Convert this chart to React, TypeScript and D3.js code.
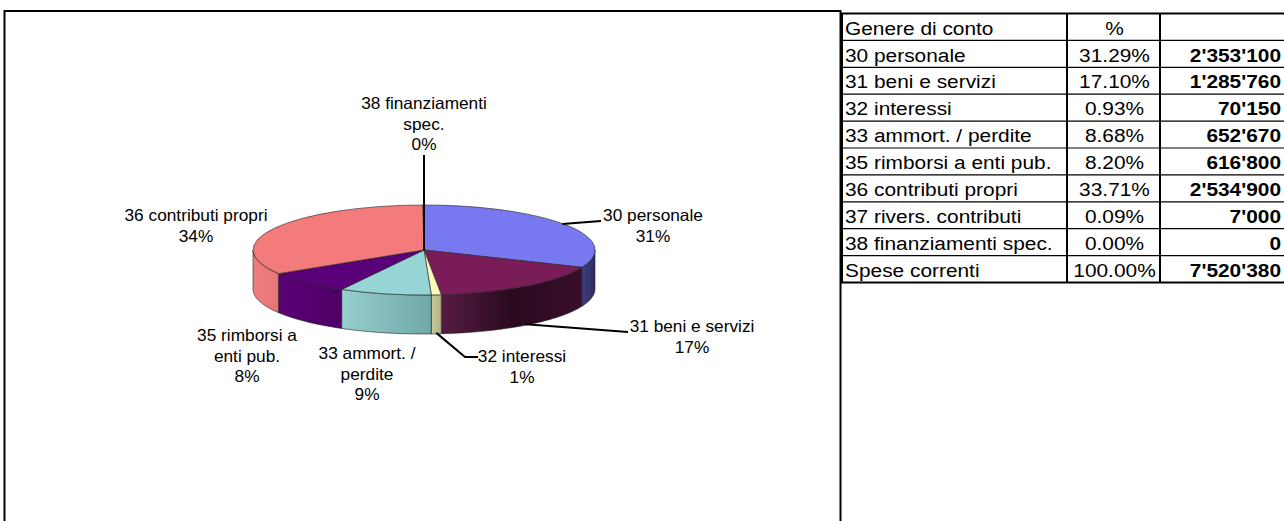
import React from "react";
import * as d3 from "d3";

// account groups, amounts in CHF
const accounts = [
  "30 personale",
  "31 beni e servizi",
  "32 interessi",
  "33 ammort. / perdite",
  "35 rimborsi a enti pub.",
  "36 contributi propri",
  "37 rivers. contributi",
  "38 finanziamenti spec.",
];
const amounts = [2353100, 1285760, 70150, 652670, 616800, 2534900, 7000, 0];
const totalLabel = "Spese correnti";
const headers = ["Genere di conto", "%", ""];

// how the pie labels wrap (37 has no label on the chart)
const pieLabelLines = [
  ["30 personale"],
  ["31 beni e servizi"],
  ["32 interessi"],
  ["33 ammort. /", "perdite"],
  ["35 rimborsi a", "enti pub."],
  ["36 contributi propri"],
  [],
  ["38 finanziamenti", "spec."],
];

const topColors = ["#7878f0", "#7a1c57", "#fbf8bc", "#96d5d5", "#5a0078", "#f47b7b", "#0a55a8", "#b4b4e6"];
const sideColors = [
  ["#3e3e84", "#2c2c60"],
  ["#561b42", "#2a0a1f", "#3a0e2b"],
  ["#c9c99a", "#b3b386"],
  ["#98d0d0", "#6fa6a6"],
  ["#5a0076", "#4e0066"],
  ["#f07e7e", "#e67575"],
  ["#0a4a90", "#083c78"],
  ["#a0a0d0", "#9090c0"],
];

// layout
const W = 1284;
const H = 521;
const FONT = "'Liberation Sans', Arial, Helvetica, sans-serif";
const cx = 424;
const cy = 250;
const rx = 171;
const ry = 45;
const depth = 39;
const labelSize = 16.3;
const labelStretch = 1.06;
const lineH = 20.5;

// label block centres relative to the pie centre
const labelOffsets: ([number, number] | null)[] = [
  [229, -34],
  [268, 77],
  [98, 107],
  [-57, 104],
  [-177, 86],
  [-228, -34],
  null,
  [0, -146],
];
// leader lines: label-side points relative to the pie centre, where the line attaches
const leaders: { i: number; pts: [number, number][]; at: "top" | "bottom" | "center" }[] = [
  { i: 0, pts: [[177, -29]], at: "top" },
  { i: 1, pts: [[204, 82]], at: "bottom" },
  { i: 2, pts: [[41, 107], [54, 107]], at: "bottom" },
  { i: 7, pts: [[0, -95]], at: "center" },
];

const total = d3.sum(amounts);
const fmtPct = d3.format(".2%");
const fmtAmt = (v: number) => d3.format(",")(v).replace(/,/g, "'");

const ex = (t: number) => cx + rx * Math.sin(t);
const ey = (t: number) => cy - ry * Math.cos(t);

function sidePath(a0: number, a1: number) {
  const s = Math.max(a0, Math.PI / 2);
  const e = Math.min(a1, (3 * Math.PI) / 2);
  if (e <= s) return null;
  const n = Math.max(2, Math.ceil(((e - s) * 180) / Math.PI));
  const ts = d3.range(n + 1).map((k) => s + ((e - s) * k) / n);
  const top = ts.map((t) => [ex(t), ey(t)] as [number, number]);
  const bot = ts.slice().reverse().map((t) => [ex(t), ey(t) + depth] as [number, number]);
  return { d: d3.line()([...top, ...bot])! + "Z", x0: Math.min(ex(s), ex(e)), x1: Math.max(ex(s), ex(e)) };
}

function Label({ x, y, lines, anchor = "middle", size, bold = false, stretch }: any) {
  return (
    <g transform={`translate(${x},${y}) scale(${stretch},1)`}>
      {lines.map((l: string, k: number) => (
        <text
          key={k}
          x={0}
          y={k * lineH}
          textAnchor={anchor}
          dominantBaseline="central"
          fontFamily={FONT}
          fontSize={size}
          fontWeight={bold ? "bold" : "normal"}
          fill="#000"
        >
          {l}
        </text>
      ))}
    </g>
  );
}

export default function App() {
  const arcs = d3
    .pie<number>()
    .sort(null)
    .startAngle(0)
    .endAngle(2 * Math.PI)(amounts);
  const arcGen = d3.arc<d3.PieArcDatum<number>>().innerRadius(0).outerRadius(rx);

  // table geometry
  const tx = 841;
  const colX = [tx, 1067, 1160, 1290];
  const ty = 13.5;
  const rowH = 26.9;
  const rows = [
    headers,
    ...accounts.map((a, i) => [a, fmtPct(amounts[i] / total), fmtAmt(amounts[i])]),
    [totalLabel, fmtPct(1), fmtAmt(total)],
  ];
  const yRow = d3.scaleLinear().domain([0, rows.length]).range([ty, ty + rowH * rows.length]);
  const tSize = 18.8;
  const tStretch = 1.11;

  return (
    <svg
      width={W}
      height={H}
      viewBox={`0 0 ${W} ${H}`}
      style={{ position: "absolute", left: 0, top: 0, background: "#fff" }}
    >
      <defs>
        {arcs.map((a, i) => {
          const sp = sidePath(a.startAngle, a.endAngle);
          if (!sp) return null;
          const stops = sideColors[i];
          return (
            <linearGradient key={i} id={`side${i}`} gradientUnits="userSpaceOnUse" x1={sp.x0} x2={sp.x1} y1={0} y2={0}>
              {stops.map((c, k) => (
                <stop key={k} offset={k / (stops.length - 1)} stopColor={c} />
              ))}
            </linearGradient>
          );
        })}
      </defs>

      {/* chart area frame */}
      <rect x={4.5} y={11} width={836} height={H + 20} fill="#fff" stroke="#000" strokeWidth={2} />

      {/* side walls */}
      {arcs.map((a, i) => {
        const sp = sidePath(a.startAngle, a.endAngle);
        if (!sp) return null;
        return <path key={i} d={sp.d} fill={`url(#side${i})`} stroke="#222" strokeWidth={0.6} strokeLinejoin="round" />;
      })}

      {/* top faces */}
      <g transform={`translate(${cx},${cy}) scale(1,${ry / rx})`}>
        {arcs.map((a, i) => (
          <path
            key={i}
            d={arcGen(a)!}
            fill={topColors[i]}
            stroke="#222"
            strokeWidth={0.6}
            vectorEffect="non-scaling-stroke"
          />
        ))}
      </g>

      {/* leader lines */}
      {leaders.map((l) => {
        const a = arcs[l.i];
        const m = (a.startAngle + a.endAngle) / 2;
        let p: [number, number];
        if (l.at === "center") p = [cx, cy];
        else if (l.at === "top") p = [ex(m) - 4, ey(m) - 1];
        else p = [ex(m), ey(m) + depth - 1];
        const pts: [number, number][] = [p, ...l.pts.map(([dx, dy]) => [cx + dx, cy + dy] as [number, number])];
        return <path key={l.i} d={d3.line()(pts)!} fill="none" stroke="#000" strokeWidth={2} />;
      })}

      {/* pie labels */}
      {arcs.map((a, i) => {
        const off = labelOffsets[i];
        if (!off || pieLabelLines[i].length === 0) return null;
        const lines = [...pieLabelLines[i], d3.format(".0%")(amounts[i] / total)];
        return (
          <Label
            key={i}
            x={cx + off[0]}
            y={cy + off[1]}
            lines={lines}
            size={labelSize}
            stretch={labelStretch}
          />
        );
      })}

      {/* table */}
      <g>
        {rows.map((r, ri) => {
          const yc = yRow(ri + 1) - 12.4;
          return (
            <g key={ri}>
              <Label x={colX[0] + 4} y={yc} lines={[r[0]]} anchor="start" size={tSize} stretch={tStretch} />
              <Label x={(colX[1] + colX[2]) / 2 + 1} y={yc} lines={[r[1]]} size={tSize} stretch={tStretch} />
              <Label x={1281} y={yc} lines={[r[2]]} anchor="end" size={tSize} bold stretch={tStretch} />
            </g>
          );
        })}
        {d3.range(1, rows.length).map((k) => (
          <line key={k} x1={colX[0]} x2={colX[3]} y1={yRow(k)} y2={yRow(k)} stroke="#000" strokeWidth={1.2} />
        ))}
        <line x1={colX[0]} x2={colX[3]} y1={yRow(0)} y2={yRow(0)} stroke="#000" strokeWidth={2.2} />
        <line x1={colX[0]} x2={colX[3]} y1={yRow(rows.length)} y2={yRow(rows.length)} stroke="#000" strokeWidth={2.2} />
        {colX.slice(0, 3).map((x, k) => (
          <line key={k} x1={x + (k === 0 ? 1 : 0)} x2={x + (k === 0 ? 1 : 0)} y1={yRow(0)} y2={yRow(rows.length)} stroke="#000" strokeWidth={2} />
        ))}
      </g>
    </svg>
  );
}
